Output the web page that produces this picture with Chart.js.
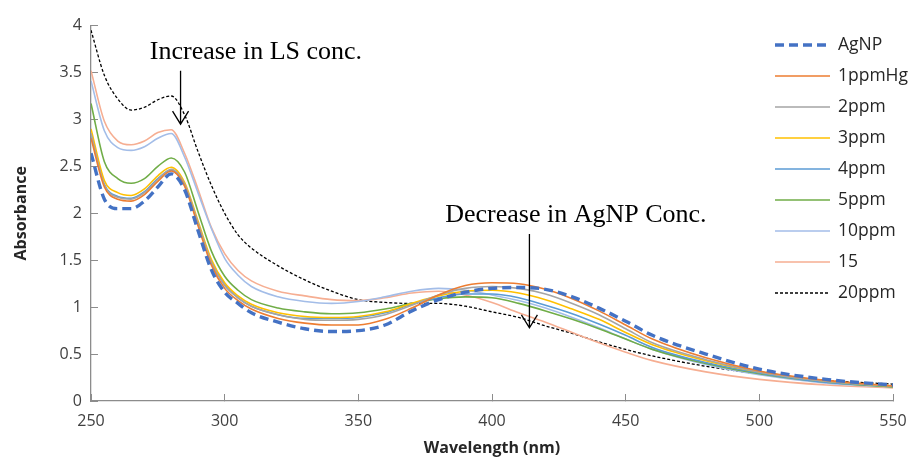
<!DOCTYPE html>
<html>
  <head>
    <style>
      body { margin: 0; background: #fff; }
    </style>
  </head>
  <body>
    <canvas id="spectra" width="917" height="457"></canvas>

    <script src="https://cdn.jsdelivr.net/npm/chart.js"></script>
    <script>
      const wavelengths = [250, 255, 260, 265, 270, 275, 280, 285, 290, 295, 300, 305, 310, 320, 330, 340,
        350, 360, 370, 380, 390, 400, 410, 420, 430, 440, 450, 460, 480, 500, 525, 550];

      const agnp = [2.64, 2.15, 2.05, 2.05, 2.13, 2.28, 2.42, 2.25, 1.82, 1.40, 1.16, 1.04, 0.94, 0.84, 0.77, 0.74,
        0.75, 0.81, 0.96, 1.08, 1.16, 1.20, 1.21, 1.19, 1.11, 0.99, 0.85, 0.70, 0.50, 0.34, 0.23, 0.17];
      const hg1 = [2.80, 2.28, 2.15, 2.13, 2.20, 2.34, 2.45, 2.29, 1.87, 1.45, 1.20, 1.07, 0.98, 0.88, 0.83, 0.81,
        0.81, 0.87, 0.99, 1.13, 1.23, 1.26, 1.25, 1.19, 1.09, 0.96, 0.81, 0.66, 0.46, 0.32, 0.22, 0.16];
      const hg2 = [2.85, 2.30, 2.17, 2.15, 2.22, 2.36, 2.47, 2.31, 1.90, 1.48, 1.23, 1.10, 1.01, 0.92, 0.87, 0.86,
        0.87, 0.92, 1.02, 1.13, 1.20, 1.22, 1.20, 1.14, 1.04, 0.92, 0.77, 0.62, 0.44, 0.31, 0.21, 0.16];
      const hg3 = [2.90, 2.35, 2.22, 2.19, 2.26, 2.40, 2.49, 2.33, 1.92, 1.51, 1.26, 1.12, 1.03, 0.94, 0.90, 0.89,
        0.90, 0.95, 1.04, 1.12, 1.17, 1.18, 1.15, 1.08, 0.98, 0.87, 0.73, 0.60, 0.43, 0.31, 0.21, 0.16];
      const hg4 = [2.85, 2.31, 2.18, 2.16, 2.23, 2.37, 2.46, 2.30, 1.89, 1.49, 1.24, 1.10, 1.01, 0.92, 0.88, 0.88,
        0.89, 0.94, 1.03, 1.10, 1.14, 1.14, 1.10, 1.02, 0.93, 0.82, 0.70, 0.57, 0.41, 0.30, 0.20, 0.16];
      const hg5 = [3.17, 2.55, 2.37, 2.32, 2.37, 2.50, 2.59, 2.44, 2.02, 1.60, 1.33, 1.18, 1.08, 0.99, 0.95, 0.93,
        0.94, 0.98, 1.04, 1.09, 1.11, 1.10, 1.04, 0.96, 0.87, 0.77, 0.66, 0.55, 0.40, 0.29, 0.20, 0.15];
      const hg10 = [3.41, 2.88, 2.70, 2.67, 2.71, 2.80, 2.85, 2.60, 2.22, 1.84, 1.52, 1.34, 1.22, 1.11, 1.06, 1.04,
        1.06, 1.11, 1.17, 1.20, 1.18, 1.13, 1.07, 0.99, 0.89, 0.78, 0.66, 0.55, 0.39, 0.28, 0.19, 0.15];
      const hg15 = [3.52, 2.98, 2.77, 2.73, 2.77, 2.86, 2.89, 2.64, 2.26, 1.85, 1.57, 1.39, 1.28, 1.17, 1.12, 1.08,
        1.07, 1.10, 1.15, 1.17, 1.13, 1.05, 0.94, 0.84, 0.73, 0.62, 0.52, 0.43, 0.31, 0.23, 0.17, 0.14];
      const hg20 = [3.95, 3.47, 3.22, 3.10, 3.13, 3.21, 3.25, 3.05, 2.66, 2.30, 2.00, 1.77, 1.63, 1.44, 1.29, 1.17,
        1.08, 1.05, 1.04, 1.04, 1.01, 0.95, 0.89, 0.80, 0.72, 0.63, 0.55, 0.48, 0.37, 0.29, 0.22, 0.18];

      const xTicks = [250, 300, 350, 400, 450, 500, 550];
      const yTicks = [0, 0.5, 1, 1.5, 2, 2.5, 3, 3.5, 4];

      // text notes, placed in data units (wavelength, absorbance)
      const notes = [
        { text: 'Increase in LS conc.', x: 272, y: 3.72, arrowX: 283.5, from: 3.52, to: 2.95 },
        { text: 'Decrease in AgNP Conc.', x: 382.5, y: 1.98, arrowX: 414, from: 1.78, to: 0.78 },
      ];

      function series(label, values, color, extra) {
        return Object.assign({
          label: label,
          data: values.map((v, i) => ({ x: wavelengths[i], y: v })),
          borderColor: color,
          backgroundColor: color,
          borderWidth: 1.6,
          pointRadius: 0,
          cubicInterpolationMode: 'monotone',
          fill: false,
        }, extra || {});
      }

      const datasets = [
        series('AgNP', agnp, '#4472C4', { borderWidth: 3.4, borderDash: [9, 5] }),
        series('1ppmHg', hg1, '#ED7D31'),
        series('2ppm', hg2, '#A5A5A5'),
        series('3ppm', hg3, '#FFC000'),
        series('4ppm', hg4, '#5B9BD5'),
        series('5ppm', hg5, '#70AD47'),
        series('10ppm', hg10, '#A3BDE8'),
        series('15', hg15, '#F6AE92'),
        series('20ppm', hg20, '#000000', { borderWidth: 1.3, borderDash: [3, 2] }),
      ];

      const notesPlugin = {
        id: 'notes',
        afterDatasetsDraw(chart) {
          const { ctx, scales } = chart;
          ctx.save();
          ctx.font = '26px "Liberation Serif"';
          ctx.fillStyle = '#000';
          ctx.strokeStyle = '#000';
          ctx.lineWidth = 1.3;
          ctx.textBaseline = 'middle';
          notes.forEach((n) => {
            ctx.fillText(n.text, scales.x.getPixelForValue(n.x), scales.y.getPixelForValue(n.y));
            const ax = scales.x.getPixelForValue(n.arrowX);
            const y1 = scales.y.getPixelForValue(n.from);
            const y2 = scales.y.getPixelForValue(n.to);
            ctx.beginPath();
            ctx.moveTo(ax, y1);
            ctx.lineTo(ax, y2);
            ctx.moveTo(ax - 8, y2 - 13);
            ctx.lineTo(ax, y2);
            ctx.lineTo(ax + 8, y2 - 13);
            ctx.stroke();
          });
          ctx.restore();
        },
      };

      // legend drawn over the plot, top right
      const legendPlugin = {
        id: 'sideLegend',
        afterDraw(chart) {
          const { ctx } = chart;
          ctx.save();
          ctx.font = '17.5px "Open Sans"';
          ctx.textBaseline = 'middle';
          chart.data.datasets.forEach((ds, i) => {
            const y = 45 + i * 31;
            ctx.strokeStyle = ds.borderColor;
            ctx.lineWidth = ds.borderWidth;
            ctx.setLineDash(ds.borderDash || []);
            ctx.beginPath();
            ctx.moveTo(775, y);
            ctx.lineTo(830, y);
            ctx.stroke();
            ctx.setLineDash([]);
            ctx.fillStyle = '#262626';
            ctx.fillText(ds.label, 838, y);
          });
          ctx.restore();
        },
      };

      const config = {
        type: 'line',
        data: { datasets: datasets },
        options: {
          responsive: false,
          animation: false,
          layout: { padding: { top: 25, right: 24, left: 0, bottom: 0 } },
          plugins: {
            legend: { display: false },
            tooltip: { enabled: false },
          },
          scales: {
            x: {
              type: 'linear',
              min: 250,
              max: 550,
              afterBuildTicks: (scale) => { scale.ticks = xTicks.map((v) => ({ value: v })); },
              afterFit: (scale) => {
                scale.height = 56;
                scale.paddingRight = 0;
                scale.paddingLeft = 0;
              },
              border: { color: '#8C8C8C', width: 1.3 },
              grid: { drawOnChartArea: false, tickLength: -7, color: '#8C8C8C' },
              ticks: { padding: 18, color: '#404040', font: { family: 'Open Sans', size: 16 } },
              title: {
                display: true,
                text: 'Wavelength (nm)',
                color: '#262626',
                padding: { top: 0, bottom: -1 },
                font: { family: 'Open Sans', size: 16, weight: 'bold' },
              },
            },
            y: {
              min: 0,
              max: 4,
              afterBuildTicks: (scale) => { scale.ticks = yTicks.map((v) => ({ value: v })); },
              afterFit: (scale) => { scale.width = 91; },
              border: { color: '#8C8C8C', width: 1.3 },
              grid: { drawOnChartArea: false, tickLength: -7, color: '#8C8C8C' },
              ticks: {
                padding: 16,
                color: '#404040',
                font: { family: 'Open Sans', size: 16 },
                callback: (v) => String(v),
              },
              title: {
                display: true,
                text: 'Absorbance',
                color: '#262626',
                padding: { top: 12, bottom: 0 },
                font: { family: 'Open Sans', size: 16, weight: 'bold' },
              },
            },
          },
        },
        plugins: [notesPlugin, legendPlugin],
      };

      const chart = new Chart(document.getElementById('spectra'), config);
    </script>
  </body>
</html>
